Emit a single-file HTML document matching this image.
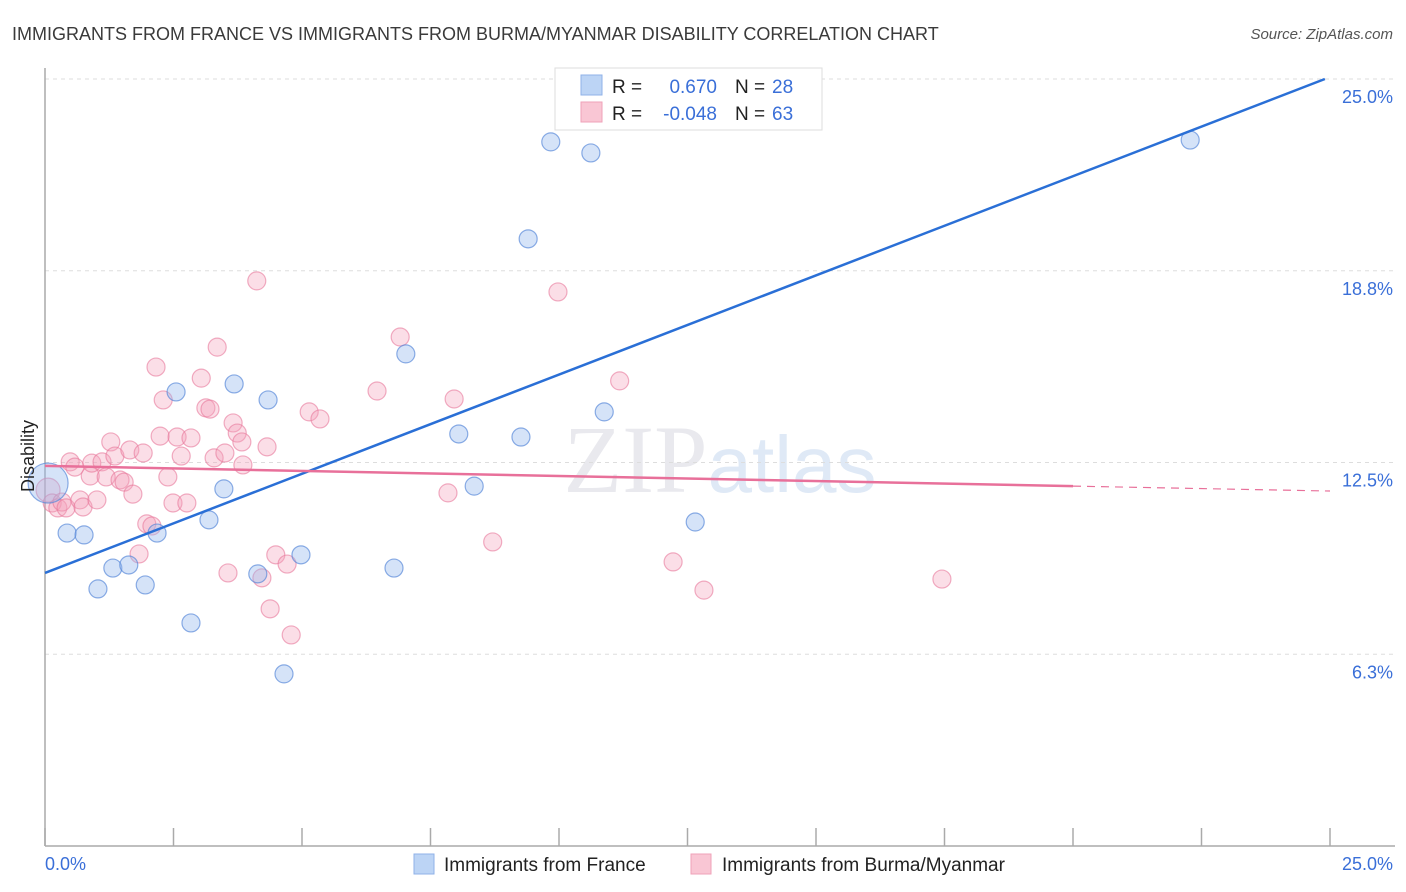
<!DOCTYPE html>
<html><head><meta charset="utf-8"><style>
body{margin:0;background:#fff;font-family:"Liberation Sans",sans-serif;}
svg{display:block}
</style></head><body>
<svg id="chart" width="1406" height="892" xmlns="http://www.w3.org/2000/svg">
<text x="12" y="40" font-size="18" fill="#3a3a3a">IMMIGRANTS FROM FRANCE VS IMMIGRANTS FROM BURMA/MYANMAR DISABILITY CORRELATION CHART</text>
<text x="1393" y="39" font-size="15" fill="#555" font-style="italic" text-anchor="end">Source: ZipAtlas.com</text>
<text x="720" y="492" font-size="96" fill="#e9e9ee" text-anchor="middle" font-family="Liberation Serif,serif">ZIP<tspan fill="#dfe9f6" font-family="Liberation Sans,sans-serif" font-size="80">atlas</tspan></text>
<g id="grid"></g><g id="axes"></g><g id="marks"></g>
<text transform="translate(34,456) rotate(-90)" font-size="18" fill="#222" text-anchor="middle">Disability</text>
<text x="45" y="870" font-size="18" fill="#3a6fd8">0.0%</text>
<text x="1393" y="870" font-size="18" fill="#3a6fd8" text-anchor="end">25.0%</text>
<g>
<rect x="555" y="68" width="267" height="62" fill="#fff" stroke="#ddd"/>
<rect x="581" y="75" width="21" height="20" fill="#bcd4f5" stroke="#8fb2e8"/>
<rect x="581" y="102" width="21" height="20" fill="#f9c6d4" stroke="#efa2b8"/>
<text x="612" y="93" font-size="19" fill="#222">R = </text><text x="717" y="93" font-size="19" fill="#3a6fd8" text-anchor="end">0.670</text>
<text x="735" y="93" font-size="19" fill="#222">N = </text><text x="772" y="93" font-size="19" fill="#3a6fd8">28</text>
<text x="612" y="120" font-size="19" fill="#222">R = </text><text x="717" y="120" font-size="19" fill="#3a6fd8" text-anchor="end">-0.048</text>
<text x="735" y="120" font-size="19" fill="#222">N = </text><text x="772" y="120" font-size="19" fill="#3a6fd8">63</text>
</g>
<g>
<rect x="414" y="854" width="20" height="20" fill="#bcd4f5" stroke="#8fb2e8"/>
<text x="444" y="871" font-size="19" fill="#222">Immigrants from France</text>
<rect x="691" y="854" width="20" height="20" fill="#f9c6d4" stroke="#efa2b8"/>
<text x="722" y="871" font-size="19" fill="#222">Immigrants from Burma/Myanmar</text>
</g>
</svg>
<script>
const yTicks=[6.25,12.5,18.75,25];
const yTickLabels=["6.3%","12.5%","18.8%","25.0%"];
const xTicks=[0,2.5,5,7.5,10,12.5,15,17.5,20,22.5,25];
const franceX=[0.06,0.43,0.76,1.03,1.32,1.63,1.95,2.18,2.55,2.84,3.19,3.48,3.68,4.14,4.34,4.65,4.98,6.79,7.02,8.05,8.35,9.26,9.40,9.84,10.62,10.88,12.65,22.28];
const franceY=[11.83,10.20,10.14,8.38,9.06,9.16,8.51,10.20,14.80,7.27,10.63,11.64,15.06,8.87,14.54,5.61,9.49,9.06,16.04,13.43,11.73,13.33,19.79,22.95,22.59,14.15,10.56,23.01];
const burmaX=[0.06,0.14,0.25,0.33,0.41,0.49,0.58,0.68,0.74,0.88,0.91,1.01,1.11,1.19,1.28,1.36,1.46,1.54,1.65,1.71,1.83,1.91,1.98,2.08,2.16,2.24,2.30,2.39,2.49,2.57,2.65,2.76,2.84,3.04,3.13,3.21,3.29,3.35,3.50,3.56,3.66,3.74,3.83,3.85,4.12,4.22,4.32,4.38,4.49,4.71,4.79,5.14,5.35,6.46,6.91,7.84,7.96,8.71,9.98,11.18,12.22,12.82,17.45];
const burmaY=[11.60,11.18,11.02,11.21,11.02,12.52,12.35,11.28,11.05,12.06,12.48,11.28,12.52,12.03,13.17,12.71,11.93,11.86,12.91,11.47,9.52,12.81,10.50,10.43,15.61,13.36,14.54,12.03,11.18,13.33,12.71,11.18,13.30,15.25,14.28,14.24,12.65,16.26,12.81,8.90,13.79,13.46,13.17,12.42,18.42,8.74,13.01,7.73,9.49,9.19,6.88,14.15,13.92,14.83,16.59,11.51,14.57,9.91,18.06,15.16,9.26,8.34,8.70];
const franceTrend=[[0,8.9],[24.9,25.0]];
const burmaTrend=[[0,12.39],[20,11.73],[25,11.57]];

const NS="http://www.w3.org/2000/svg";
const sx=v=>45+v/25*1285, sy=v=>846-v/25*767;
function mk(tag,attrs,parent){const e=document.createElementNS(NS,tag);for(const k in attrs)e.setAttribute(k,attrs[k]);parent.appendChild(e);return e;}
const grid=document.getElementById('grid'),axes=document.getElementById('axes'),marks=document.getElementById('marks');
yTicks.forEach((t,i)=>{
  const l=mk('line',{x1:45,x2:1395,y1:sy(t),y2:sy(t),stroke:'#ddd','stroke-dasharray':'4,4'},grid);
  
  
  const tx=mk('text',{x:1393,y:sy(t)+24,'font-size':18,fill:'#3a6fd8','text-anchor':'end'},grid);
  tx.textContent=yTickLabels[i];
  
  
});
const ya=mk('line',{x1:45,x2:45,y1:68,y2:846,stroke:'#aaa','stroke-width':1.5},axes);


const xa=mk('line',{x1:45,x2:1395,y1:846,y2:846,stroke:'#aaa','stroke-width':1.5},axes);


xTicks.forEach(t=>{
  const l=mk('line',{x1:sx(t),x2:sx(t),y1:828,y2:846,stroke:'#aaa','stroke-width':1.5},axes);
  
  
});
burmaX.forEach((x,i)=>{
  const c=mk('circle',{cx:sx(x),cy:sy(burmaY[i]),r:i==0?12:9,fill:'rgba(244,160,186,0.35)',stroke:'rgba(232,120,155,0.6)','stroke-width':1.2},marks);
  
  
});
franceX.forEach((x,i)=>{
  const c=mk('circle',{cx:sx(x),cy:sy(franceY[i]),r:i==0?20:9,fill:'rgba(150,186,238,0.4)',stroke:'rgba(80,130,215,0.65)','stroke-width':1.2},marks);
  
  
});
const ft=mk('line',{x1:sx(franceTrend[0][0]),y1:sy(franceTrend[0][1]),x2:sx(franceTrend[1][0]),y2:sy(franceTrend[1][1]),stroke:'#2a6fd6','stroke-width':2.5},marks);


const bt=mk('line',{x1:sx(burmaTrend[0][0]),y1:sy(burmaTrend[0][1]),x2:sx(burmaTrend[1][0]),y2:sy(burmaTrend[1][1]),stroke:'#e8709a','stroke-width':2.5},marks);


const bd=mk('line',{x1:sx(burmaTrend[1][0]),y1:sy(burmaTrend[1][1]),x2:sx(burmaTrend[2][0]),y2:sy(burmaTrend[2][1]),stroke:'#e8709a','stroke-width':1.2,'stroke-dasharray':'8,6'},marks);


</script>
</body></html>
